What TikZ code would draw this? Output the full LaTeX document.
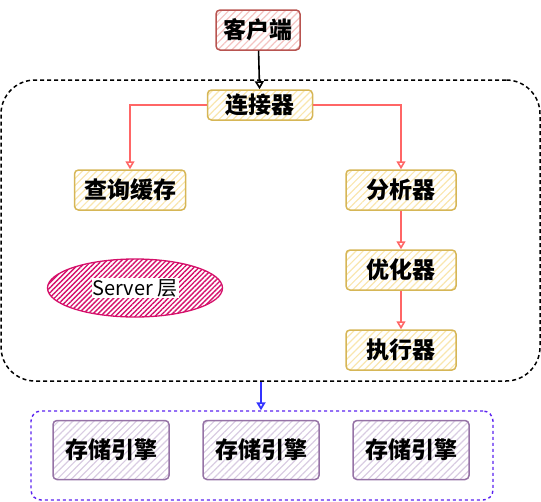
\documentclass[tikz,border=0pt]{standalone}
\usepackage{fontspec}
\setmainfont{Noto Sans CJK SC}
\usetikzlibrary{arrows.meta,patterns.meta,positioning,shapes.geometric}

\definecolor{clientline}{HTML}{B85450}
\definecolor{clienthatch}{HTML}{F4C4C2}
\definecolor{stepline}{HTML}{D6B656}
\definecolor{stephatch}{HTML}{F9E6AE}
\definecolor{engineline}{HTML}{9673A6}
\definecolor{enginehatch}{HTML}{D9CCE2}
\definecolor{layerpink}{HTML}{D5106A}
\definecolor{flowred}{HTML}{FF6666}
\definecolor{flowblue}{HTML}{3333FF}
\definecolor{storedash}{HTML}{5A22F0}

\begin{document}
\begin{tikzpicture}[x=1pt,y=-1pt,
  box/.style={draw,line width=1.5pt,rounded corners=4pt,inner sep=0pt,
    font=\fontsize{23}{26}\selectfont\bfseries},
  clientbox/.style={box,draw=clientline,minimum width=84pt,minimum height=40pt,
    pattern={Lines[angle=45,distance=5pt,line width=1.2pt]},pattern color=clienthatch},
  stepbox/.style={box,draw=stepline,minimum width=110pt,minimum height=40pt,
    pattern={Lines[angle=45,distance=5pt,line width=1.2pt]},pattern color=stephatch},
  enginebox/.style={box,draw=engineline,minimum width=116pt,minimum height=59pt,
    pattern={Lines[angle=45,distance=5pt,line width=1.2pt]},pattern color=enginehatch},
  flow/.style={draw=flowred,line width=1.6pt,-{Triangle[open,length=8pt,width=9pt]}}]
  \useasboundingbox (0,0) rectangle (541,501);

  % layers
  \node[draw,line width=1.5pt,dash pattern=on 4pt off 3pt,rounded corners=34pt,
    minimum width=539pt,minimum height=301pt] (serverbox) at (270.5,230.5) {};
  \node[draw=storedash,line width=1.4pt,dash pattern=on 3pt off 3pt,rounded corners=10pt,
    minimum width=462pt,minimum height=89pt] (storebox) at (262,455.5) {};

  % server side
  \node[clientbox] (client) at (258,30) {客户端};
  \node[stepbox,minimum width=105pt,minimum height=30pt] (conn) at (260,105) {连接器};
  \node[stepbox,minimum width=111pt] (cache) at (130,190) {查询缓存};
  \node[stepbox] (parser) at (401,190) {分析器};
  \node[stepbox] (optimizer) at (401,270) {优化器};
  \node[stepbox] (executor) at (401,350) {执行器};
  \node[ellipse,draw=layerpink,line width=1.3pt,minimum width=175pt,minimum height=58pt,
    pattern={Lines[angle=45,distance=3.5pt,line width=1.4pt]},pattern color=layerpink] (layer) at (135,288) {};
  \node[fill=white,inner sep=1pt,font=\fontsize{20}{24}\selectfont] at (layer) {Server 层};

  % storage engines
  \node[enginebox] (engine1) at (111,450) {存储引擎};
  \node[enginebox] (engine2) at (261,450) {存储引擎};
  \node[enginebox] (engine3) at (411,450) {存储引擎};

  % connectors
  \draw[line width=1.6pt,-{Triangle[open,length=8pt,width=9pt]}] (client) -- (conn);
  \draw[flow] (conn.west) -| (cache.north);
  \draw[flow] (conn.east) -| (parser.north);
  \draw[flow] (parser) -- (optimizer);
  \draw[flow] (optimizer) -- (executor);
  \draw[draw=flowblue,line width=1.8pt,-{Triangle[open,length=8pt,width=9pt]}]
    (serverbox.south -| engine2.north) -- (storebox.north -| engine2.north);
\end{tikzpicture}
\end{document}
